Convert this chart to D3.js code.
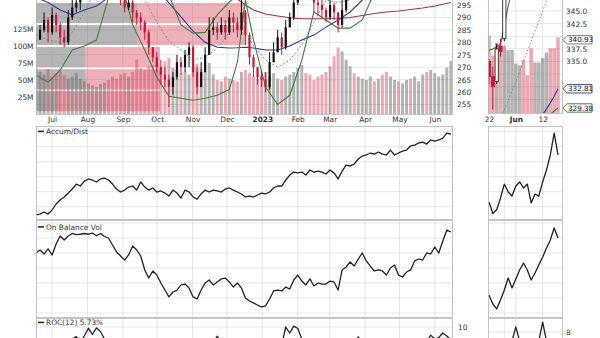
<!DOCTYPE html>
<html>
<head>
<meta charset="utf-8">
<script src="https://cdn.jsdelivr.net/npm/d3@7/dist/d3.min.js"></script>
<style>
  body { margin: 0; background: #fff; }
  svg text { font-family: "DejaVu Sans", Verdana, sans-serif; font-size: 7.4px; fill: #333; }
</style>
</head>
<body>
<svg id="chart" width="600" height="338"></svg>
<script>
// ---- main series: one bin every ~3.5 calendar days, Jun 17 2022 -> Jun 15 2023 ----
const priceClose = [281,285,289,284,291,287,282,280,290,294, 296,300,310,318,322,325,330,333,325,315,
  305,298,294,296,292,290,288,284,278,274, 270,267,265,262,266,272,270,275,278,268,
  262,268,275,285,286,284,287,284,290,288, 285,292,283,274,270,266,265,262,272,276,
  282,278,286,290,296,302,308,303,300,296, 295,293,290,295,292,287,293,300,305,302,
  308,313,318,319,316,318,315,306,318,322, 320,325,327,325,330,335,338,330,345,350,
  355,360,362,369];
const priceHigh = [284,287,292,290,294,292,288,285,293,297, 299,303,314,322,326,328,333,336,334,326,
  316,306,298,299,297,293,292,289,285,278, 276,273,270,267,268,275,274,277,280,279,
  270,272,278,290,290,288,290,289,293,292, 290,297,293,284,275,270,269,268,276,280,
  285,284,289,292,298,305,312,308,304,301, 298,297,294,298,296,292,297,303,308,306,
  311,316,320,321,320,321,319,316,320,324, 324,327,329,329,332,337,340,339,348,353,
  357,362,365,371];
const priceLow = [278,281,284,280,283,284,279,278,279,289, 292,293,299,309,318,321,324,329,322,311,
  302,295,292,293,288,287,285,281,275,272, 268,263,262,254,259,265,267,268,270,266,
  259,262,268,275,283,281,283,281,283,284, 282,283,279,271,266,263,262,260,261,272,
  276,275,277,286,289,295,301,300,297,292, 291,290,288,289,289,284,286,292,299,299,
  301,307,312,315,313,315,312,303,305,318, 317,320,323,322,324,329,334,327,329,344,
  350,354,359,361];
const volumeM = [68,62,58,66,55,60,63,57,52,55, 60,52,48,45,42,40,44,46,50,55,
  52,58,60,55,62,80,68,65,70,72, 75,70,78,82,68,65,60,62,58,70,
  74,66,62,75,58,50,48,55,52,50, 48,62,65,60,55,52,58,62,55,60,
  52,50,55,58,62,68,72,60,58,50, 55,58,62,70,85,98,92,80,70,60,
  55,52,50,55,48,52,58,62,55,50, 48,45,50,52,55,48,58,62,65,60,
  55,58,68,78];
const accumDist = [4.5,5.1,6.5,5.1,7.8,11.8,14.5,16.5,19.1,21.8, 25.1,23.8,27.1,28.5,27.8,26.5,28.5,29.1,27.8,25.1,
  21.8,19.8,21.1,23.1,23.8,21.1,26.5,23.1,21.1,22.5, 19.8,20.5,19.1,17.1,21.1,19.1,15.8,21.1,19.8,16.5,
  15.1,18.5,21.1,19.8,21.1,20.5,19.8,21.8,22.5,21.1, 19.8,18.5,16.5,17.1,16.5,17.8,19.1,18.5,19.8,22.5,
  23.8,23.8,27.8,31.1,33.1,32.5,33.1,31.1,34.5,33.1, 33.8,33.1,31.8,34.5,32.5,28.5,33.8,37.8,37.1,38.5,
  41.8,43.8,44.5,45.8,45.1,46.5,45.1,44.5,47.8,44.5, 45.8,47.1,47.8,50.5,51.1,52.5,53.1,51.8,54.5,53.8,
  54.5,55.8,59.1,58.5];
const onBalanceVol = [40,42,39.3,42.7,38.7,46,51.3,48.7,51.3,53, 52.2,52.5,53,52.5,53.3,51.5,53,51,50,45.3,
  40.7,38,35.3,38.7,44.7,42,38,28.7,23.3,28, 25.3,20,15.3,10.7,14,15.3,18.7,19.3,16.7,10.7,
  9.3,15.3,20,22,18.7,20.7,22.7,23.3,20.7,17.3, 20,16.7,10,8,6.7,5.3,4,4.7,9.3,14.7,
  15.3,14.7,17.3,16,22,25.3,21.3,18.7,22.7,18, 20,19.3,19.3,21.3,20.7,15.3,28.7,30.7,34,31.3,
  36,40,34.7,31.3,28,28.7,28,25.3,30,32, 25.3,24,27.3,28.7,34.7,36,35.3,40,39.3,44,
  40,48,55.3,54];
const roc12 = [-4,0,3,2,5,4,1,-1,3,6, 6.8,5,7,9.6,7.5,9.7,8.5,6,2,-3,
  -6,-8,-5,-3,-1,-4,-6,-9,-10,-8, -9,-6,-4,-3,1,3,2,4,5,-1,
  -4,-1,2,6,5,6.9,5,3,4,2, 0,3,-2,-6,-7,-8,-6,-7,-2,2,
  5,4,10,8,10.3,9.5,6,2,0,-1, -2,-4,-2,0,-2,-3,2,4,6,4,
  6.7,5,3,1,-1,0,-2,-3,1,3, 2,4,5,3,4,5,6,5,7.3,6,
  6.5,8,7,5.73];

// ---- overlays, sampled on a subset of the bins ----
const overlayBins = [0,3,6,9,12,15,18,21,24,27,30,33,36,39,42,45,48,50,52,54,57,60,63,66,69,72,75,78,81,84,87,90,93,96,99,103];
const bbUpper = [301,302,303,305,315,330,340,342,338,330,318,299,287,283.7,284,291,296.2,299,300,299,298,298,300,310,315,313,306,305,312,320,323,325,328,332,338,350];
const bbMiddle = [283,281,280,284,292,302,315,322,312,297,288,280.5,277,273,274,277.7,284,285.7,283,278.9,272.8,270,272.8,278.9,288,297,296,297,302,307,312,315,318,322,328,338];
const bbLower = [266.8,264,268.8,276.9,278.5,280.9,298,305,287,276.9,266,258.3,257.5,256.7,257.5,258.7,261,272,297,281,262,255,258.7,272.8,292.2,289,285.7,285.7,289,300,305,308,310,312,318,325];
const sma50 = [298,296,293,291,293,294.6,298,302,304,304,302,295.8,290.2,284.5,280,278,277.7,277.8,278,277.7,276.9,276.9,278.5,280.9,282.9,286.1,289,292.2,297,300,303,306,310,313,317,321];
const sma200 = [340,339,338,336,335,334,333,332,330,328,326,322,318,313,307,303,299,297.3,295,293,291.4,290.6,289.9,289.5,289.5,289.5,289.6,290,290.8,291.6,292.2,292.6,293.2,293.8,294.6,296];

// ---- volume by price (millions of shares per price zone) ----
const vbpLow = [287.3, 278.5, 269.6, 260.7, 251.9];
const vbpHigh = [296.2, 287.3, 278.5, 269.6, 260.7];
const vbpUpVol = [1010, 1010, 490, 490, 240];
const vbpDownVol = [1080, 1080, 750, 750, 1000];

// ---- right-hand zoom panel: May 22 -> Jun 16 2023 ----
const rightDays = ["2023-05-22","2023-05-23","2023-05-24","2023-05-25","2023-05-26","2023-05-30","2023-05-31",
  "2023-06-01","2023-06-02","2023-06-05","2023-06-06","2023-06-07","2023-06-08","2023-06-09",
  "2023-06-12","2023-06-13","2023-06-14","2023-06-15","2023-06-16"];
const rightOpen = [335,332,331,338,339.5,348,351,352,353.5,356,355.5,354,353,356,357.5,362,364,363.5,363];
const rightHigh = [335.5,334,338.5,339.5,349,352,353,355,357,357,356.5,355,357,358.5,363,365,366,365,364];
const rightLow = [330.5,325.5,330.5,336,339,347.5,349.5,351,353,354.5,353,352,352.5,355.5,357,361,362.5,361.5,361];
const rightClose = [332,330,337.5,337,348,351,352,353.5,356,355.5,354,353,356,357.5,362,364,363.5,363,362.5];
const rightVolumeM = [86,64,78,75,75,70,70,55,53,59,42,72,56,56,61,67,72,72,84];
const rightUpper = [337.2,337.5,337.9,338.4,342,346,349,352,355,357,359,361,362,364,366,368,370,372,374];
const rightMiddle = [320,321.3,322.6,324,325.5,327.3,329.2,331,333,335,337,339,341,343,345,347,349,351,353];
const rightLower = [318,318.3,318.7,319,319.4,319.8,320.2,320.6,321,321.4,321.8,322.2,322.6,323,323.5,324,324.6,325.2,325.8];
const rightSma50 = [318,318.4,318.8,319.2,319.6,320,320.4,320.8,321.2,321.6,322,322.4,322.9,323.6,324.5,325.6,326.8,328.1,329.6];
const rightAccumDist = [13.1,5.5,8,15.8,25.1,19.8,17.1,23.8,26.5,22.5,25.1,12.5,18.5,17.1,26.5,34.5,44.5,59.1,44.5];
const rightOBV = [12,6,2.7,8.7,15.3,23.3,16.7,22.7,28.7,33.3,28.7,22,26.7,32,37.3,43.3,48.7,56.7,50];
const rightRoc = [-3,-2,1,3,2,4,5,9.7,5,4,3,2,4,5,11.3,5,4,3,2];

// ---- ticks and labels ----
const priceTicks = [255,260,265,270,275,280,285,290,295];
const volTicks = [25,50,75,100,125];
const monthLabels = ["Jul","Aug","Sep","Oct","Nov","Dec","2023","Feb","Mar","Apr","May","Jun"];
const rightPriceTicks = [335,337.5,342.5,345];
const rightGridTicks = [327.5,330,332.5,335,337.5,340,342.5,345];
const rightLabelDays = ["2023-05-22","2023-06-01","2023-06-12"];
const rightLabelText = ["22","Jun","12"];
const rightGridDays = ["2023-05-26","2023-06-01","2023-06-12"];
const tagText = ["340.93","332.81","329.38"];
const tagValue = [339.3, rightSma50[rightSma50.length - 1], rightLower[rightLower.length - 1]];
const tagColor = ["#777","#3a3a8c","#3d7a3d"];

// ---- colours ----
const UP = "#111", DOWN = "#cc1538";
const GRID = "#dadada", BORDER = "#b5b5b5";

const svg = d3.select("#chart");
const defs = svg.append("defs");
function addClip(id, x0, y0, x1, y1) {
  defs.append("clipPath").attr("id", id).append("rect")
    .attr("x", x0).attr("y", y0).attr("width", x1 - x0).attr("height", y1 - y0);
}

// x scales
const parseDay = d3.timeParse("%Y-%m-%d");
const startDate = parseDay("2022-06-17"), endDate = parseDay("2023-06-16");
const binStep = 363 / 103;
const binDates = priceClose.map((_, i) => d3.timeHour.offset(startDate, Math.round(i * binStep * 24)));
const x = d3.scaleTime().domain([startDate, endDate]).range([36, 452]);
const monthTicks = d3.timeMonth.range(parseDay("2022-07-01"), parseDay("2023-06-02"));
const xR = d3.scalePoint().domain(rightDays).range([489, 558]);

// panel geometry
const L0 = 36, L1 = 452, R0 = 488, R1 = 563;
const MAIN_B = 114, RMAIN_B = 113;

// y scales
const yPrice = d3.scaleLinear().domain([255, 295]).range([104.5, 5]);
const yVol = d3.scaleLinear().domain([0, 125]).range([MAIN_B, 29]);
const vbpLen = d3.scaleLinear().domain([0, 1000]).range([0, 100]);
const yPriceR = d3.scaleLinear().domain([325, 345]).range([112, 11]);
const yVolR = d3.scaleLinear().domain([0, 125]).range([RMAIN_B, 0.5]);
const yAD = d3.scaleLinear().domain([1.8, 62.5]).range([219, 128]);
const yOBV = d3.scaleLinear().domain([-2.67, 61.33]).range([317, 221]);
const yROC = d3.scaleLinear().domain([0, 10]).range([357, 327]);
const yROCR = d3.scaleLinear().domain([0, 8]).range([356, 332]);

addClip("clipMain", L0, -5, L1, MAIN_B);
addClip("clipMainR", R0, -5, R1, RMAIN_B);
addClip("clipAD", L0, 126, L1, 219);
addClip("clipADR", R0, 126, R1, 219);
addClip("clipOBV", L0, 221, L1, 317);
addClip("clipOBVR", R0, 221, R1, 317);
addClip("clipROC", L0, 319, L1, 345);
addClip("clipROCR", R0, 319, R1, 345);

function hLines(g, x0, x1, ys) {
  g.selectAll(null).data(ys).join("line")
    .attr("x1", x0).attr("x2", x1).attr("y1", d => d).attr("y2", d => d)
    .attr("stroke", GRID).attr("stroke-width", 0.7);
}
function vLines(g, xs, y0, y1) {
  g.selectAll(null).data(xs).join("line")
    .attr("x1", d => d).attr("x2", d => d).attr("y1", y0).attr("y2", y1)
    .attr("stroke", GRID).attr("stroke-width", 0.7);
}
function border(x0, y0, x1, y1) {
  svg.append("rect").attr("x", x0 + 0.5).attr("y", y0 + 0.5)
    .attr("width", x1 - x0 - 1).attr("height", y1 - y0 - 1)
    .attr("fill", "none").attr("stroke", BORDER).attr("stroke-width", 0.8);
}

// ================= MAIN PRICE PANEL (left) =================
const main = svg.append("g").attr("clip-path", "url(#clipMain)");
hLines(main, L0, L1, priceTicks.map(yPrice));
vLines(main, monthTicks.map(x), -5, MAIN_B);

// volume by price bars
const vbp = vbpLow.map((lo, i) => ({ lo, hi: vbpHigh[i], up: vbpUpVol[i], down: vbpDownVol[i] }));
main.selectAll(".vbpUp").data(vbp).join("rect")
  .attr("x", L0).attr("y", d => yPrice(d.hi) + 1)
  .attr("width", d => vbpLen(d.up)).attr("height", d => yPrice(d.lo) - yPrice(d.hi) - 2)
  .attr("fill", "rgba(120,120,120,0.55)");
main.selectAll(".vbpDown").data(vbp).join("rect")
  .attr("x", d => L0 + vbpLen(d.up)).attr("y", d => yPrice(d.hi) + 1)
  .attr("width", d => vbpLen(d.down)).attr("height", d => yPrice(d.lo) - yPrice(d.hi) - 2)
  .attr("fill", "rgba(215,70,90,0.42)");

const bins = priceClose.map((c, i) => ({
  date: binDates[i], close: c, open: i ? priceClose[i - 1] : c,
  high: priceHigh[i], low: priceLow[i], vol: volumeM[i]
}));

// volume bars
main.selectAll(".vol").data(bins).join("rect")
  .attr("x", d => x(d.date) - 1.5).attr("width", 3)
  .attr("y", d => yVol(d.vol)).attr("height", d => MAIN_B - yVol(d.vol))
  .attr("fill", d => d.close >= d.open ? "rgba(105,105,105,0.5)" : "rgba(215,65,85,0.45)");

// overlays
const ovLine = vals => d3.line().x((d, k) => x(binDates[overlayBins[k]])).y(d => yPrice(d))(vals);
main.append("path").attr("d", ovLine(sma200)).attr("fill", "none").attr("stroke", "#a3324c").attr("stroke-width", 1.1);
main.append("path").attr("d", ovLine(sma50)).attr("fill", "none").attr("stroke", "#35359a").attr("stroke-width", 1.1);
main.append("path").attr("d", ovLine(bbMiddle)).attr("fill", "none").attr("stroke", "#6f8f6f").attr("stroke-width", 0.9).attr("stroke-dasharray", "2,2");
main.append("path").attr("d", ovLine(bbUpper)).attr("fill", "none").attr("stroke", "#3f7f3a").attr("stroke-width", 1.1);
main.append("path").attr("d", ovLine(bbLower)).attr("fill", "none").attr("stroke", "#3f7f3a").attr("stroke-width", 1.1);

// candles
const cg = main.selectAll(".candle").data(bins).join("g");
cg.append("line")
  .attr("x1", d => x(d.date)).attr("x2", d => x(d.date))
  .attr("y1", d => yPrice(Math.max(d.high, d.open, d.close)))
  .attr("y2", d => yPrice(Math.min(d.low, d.open, d.close)))
  .attr("stroke", d => d.close >= d.open ? UP : DOWN).attr("stroke-width", 1);
cg.append("rect")
  .attr("x", d => x(d.date) - 1.1).attr("width", 2.2)
  .attr("y", d => yPrice(Math.max(d.open, d.close)))
  .attr("height", d => Math.max(1, Math.abs(yPrice(d.open) - yPrice(d.close))))
  .attr("fill", d => d.close >= d.open ? UP : DOWN);

border(L0, -2, L1 + 1, MAIN_B + 1);

// axes for main panel
svg.append("g").attr("transform", `translate(${L0},0)`)
  .call(d3.axisLeft(yVol).tickValues(volTicks).tickFormat(d => d + "M").tickSize(0).tickPadding(2.5));
svg.append("g").attr("transform", `translate(${L1},0)`)
  .call(d3.axisRight(yPrice).tickValues(priceTicks).tickSize(0).tickPadding(5));
const xAxis = svg.append("g").attr("transform", `translate(0,${MAIN_B})`)
  .call(d3.axisBottom(x).tickValues(monthTicks).tickFormat((d, i) => monthLabels[i]).tickSize(0).tickPadding(3));
xAxis.selectAll("text").filter((d, i) => monthLabels[i] === "2023").style("font-weight", "bold");

// ================= MAIN PRICE PANEL (right zoom) =================
const mainR = svg.append("g").attr("clip-path", "url(#clipMainR)");
hLines(mainR, R0, R1, rightGridTicks.map(yPriceR));
vLines(mainR, rightGridDays.map(xR), -5, RMAIN_B);

const rbins = rightDays.map((day, i) => ({
  day, open: rightOpen[i], high: rightHigh[i], low: rightLow[i], close: rightClose[i],
  prev: i ? rightClose[i - 1] : rightOpen[i], vol: rightVolumeM[i]
}));
mainR.selectAll(".rvol").data(rbins).join("rect")
  .attr("x", d => xR(d.day) - 1.8).attr("width", 3.6)
  .attr("y", d => yVolR(d.vol)).attr("height", d => RMAIN_B - yVolR(d.vol))
  .attr("fill", d => d.close >= d.prev ? "rgba(105,105,105,0.5)" : "rgba(215,65,85,0.45)");

const rLine = vals => d3.line().x((d, i) => xR(rightDays[i])).y(d => yPriceR(d))(vals);
mainR.append("path").attr("d", rLine(rightSma50)).attr("fill", "none").attr("stroke", "#35359a").attr("stroke-width", 1.1);
mainR.append("path").attr("d", rLine(rightMiddle)).attr("fill", "none").attr("stroke", "#6f8f6f").attr("stroke-width", 0.9).attr("stroke-dasharray", "1.5,2");
mainR.append("path").attr("d", rLine(rightUpper)).attr("fill", "none").attr("stroke", "#3f7f3a").attr("stroke-width", 1.1);
mainR.append("path").attr("d", rLine(rightLower)).attr("fill", "none").attr("stroke", "#3f7f3a").attr("stroke-width", 1.1);

const rc = mainR.selectAll(".rcandle").data(rbins).join("g");
rc.append("line")
  .attr("x1", d => xR(d.day)).attr("x2", d => xR(d.day))
  .attr("y1", d => yPriceR(d.high)).attr("y2", d => yPriceR(d.low))
  .attr("stroke", d => d.close >= d.open ? UP : DOWN).attr("stroke-width", 1);
rc.append("rect")
  .attr("x", d => xR(d.day) - 1.6).attr("width", 3.2)
  .attr("y", d => yPriceR(Math.max(d.open, d.close)))
  .attr("height", d => Math.max(1, Math.abs(yPriceR(d.open) - yPriceR(d.close))))
  .attr("fill", d => d.close >= d.open ? "#fff" : DOWN)
  .attr("stroke", d => d.close >= d.open ? UP : DOWN).attr("stroke-width", 0.8);

border(R0, -2, R1, RMAIN_B + 1);

svg.append("g").attr("transform", `translate(${R1},0)`)
  .call(d3.axisRight(yPriceR).tickValues(rightPriceTicks).tickFormat(d3.format(".1f")).tickSize(0).tickPadding(3));
const xAxisR = svg.append("g").attr("transform", `translate(0,${RMAIN_B})`)
  .call(d3.axisBottom(xR).tickValues(rightLabelDays).tickFormat((d, i) => rightLabelText[i]).tickSize(0).tickPadding(4));
xAxisR.selectAll("text").filter((d, i) => rightLabelText[i] === "Jun").style("font-weight", "bold");

// value tags on the right edge
const tags = svg.append("g").selectAll("g").data(tagText).join("g")
  .attr("transform", (d, i) => `translate(${R1},${yPriceR(tagValue[i])})`);
tags.append("path")
  .attr("d", "M0,0 L4,-4.2 L29,-4.2 L29,4.2 L4,4.2 Z")
  .attr("fill", "#f4f4f4").attr("stroke", (d, i) => tagColor[i]).attr("stroke-width", 0.9);
tags.append("text").attr("x", 5).attr("y", 2.7).text(d => d).style("font-size", "7.2px").style("fill", "#222");

// ================= INDICATOR PANELS =================
function indicatorPanel(opt) {
  const gl = svg.append("g").attr("clip-path", `url(#${opt.clipL})`);
  hLines(gl, L0, L1, opt.ticks.map(opt.y));
  vLines(gl, monthTicks.map(x), opt.top, opt.bottom);
  gl.append("path")
    .attr("d", d3.line().x((d, i) => x(binDates[i])).y(d => opt.y(d))(opt.values))
    .attr("fill", "none").attr("stroke", "#222").attr("stroke-width", 1.3).attr("stroke-linejoin", "round");
  border(L0, opt.top, L1 + 1, opt.bottom);

  const gr = svg.append("g").attr("clip-path", `url(#${opt.clipR})`);
  hLines(gr, R0, R1, opt.ticksR.map(opt.yR));
  vLines(gr, rightGridDays.map(xR), opt.top, opt.bottom);
  gr.append("path")
    .attr("d", d3.line().x((d, i) => xR(rightDays[i])).y(d => opt.yR(d))(opt.valuesR))
    .attr("fill", "none").attr("stroke", "#222").attr("stroke-width", 1.3).attr("stroke-linejoin", "round");
  border(R0, opt.top, R1, opt.bottom);

  svg.append("line").attr("x1", 38).attr("x2", 44).attr("y1", opt.labelY - 2.6).attr("y2", opt.labelY - 2.6)
    .attr("stroke", "#222").attr("stroke-width", 1.5);
  svg.append("text").attr("x", 46).attr("y", opt.labelY).text(opt.label);
}

indicatorPanel({
  top: 126, bottom: 220, y: yAD, yR: yAD, values: accumDist, valuesR: rightAccumDist,
  ticks: [10, 20, 30, 40, 50, 60], ticksR: [10, 20, 30, 40, 50, 60],
  clipL: "clipAD", clipR: "clipADR", label: "Accum/Dist", labelY: 134
});
indicatorPanel({
  top: 220, bottom: 318, y: yOBV, yR: yOBV, values: onBalanceVol, valuesR: rightOBV,
  ticks: [0, 10, 20, 30, 40, 50, 60], ticksR: [0, 10, 20, 30, 40, 50, 60],
  clipL: "clipOBV", clipR: "clipOBVR", label: "On Balance Vol", labelY: 229.5
});
indicatorPanel({
  top: 318, bottom: 345, y: yROC, yR: yROCR, values: roc12, valuesR: rightRoc,
  ticks: [10, 5], ticksR: [8, 4],
  clipL: "clipROC", clipR: "clipROCR", label: "ROC(12) 5.73%", labelY: 325
});

svg.append("g").attr("transform", `translate(${L1},0)`)
  .call(d3.axisRight(yROC).tickValues([10]).tickSize(0).tickPadding(6));
svg.append("g").attr("transform", `translate(${R1},0)`)
  .call(d3.axisRight(yROCR).tickValues([8]).tickSize(0).tickPadding(3));

// plain axis styling
svg.selectAll(".domain").remove();
</script>
</body>
</html>
